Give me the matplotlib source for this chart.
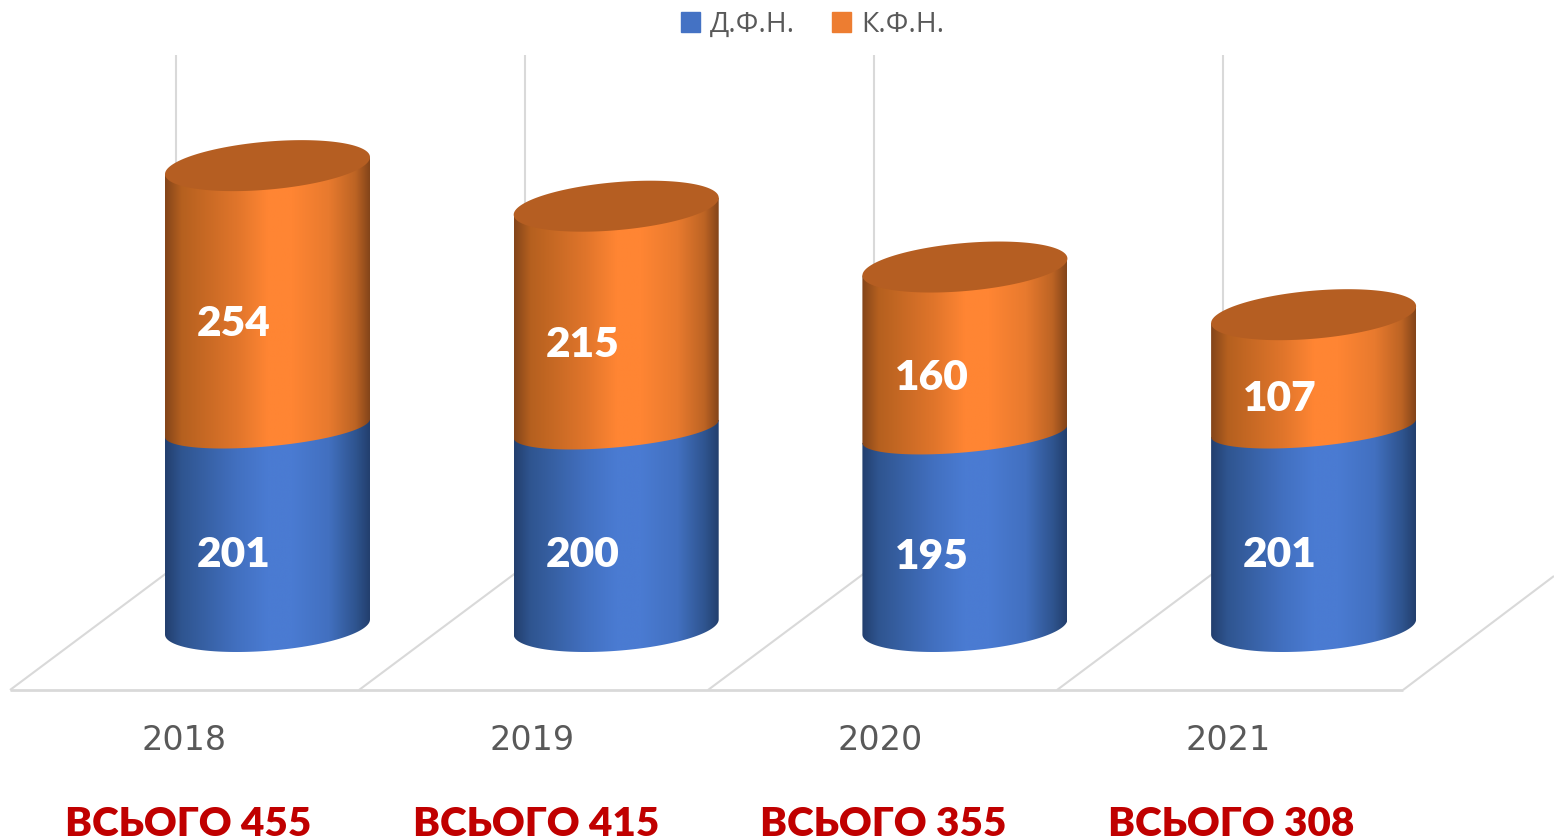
import numpy as np
import matplotlib
matplotlib.use('Agg')
import matplotlib.pyplot as plt
from matplotlib.colors import LinearSegmentedColormap
from matplotlib.patches import Patch, PathPatch
from matplotlib.path import Path

years = ['2018', '2019', '2020', '2021']
doctors = [201, 200, 195, 201]
candidates = [254, 215, 160, 107]
legend_names = ['Д.Ф.Н.', 'К.Ф.Н.']
total_word = 'ВСЬОГО'

W, H = 1554, 840
STEP = 348.7         # px between categories
BASE_X, BASE_Y = 267.5, 627  # px position of first cylinder bottom centre
HALF = 102.5 / STEP  # cylinder half width in category units
FONTS = ['Lato', 'Open Sans', 'DejaVu Sans']

BLUE = ['#233f6e', '#2f5590', '#4270c0', '#4a7bd2', '#4a7bd2', '#4270c0', '#2f5590', '#233f6e']
ORANGE = ['#84451a', '#b5601f', '#e0752b', '#ff8533', '#ff8533', '#e87a2e', '#bd6424', '#84451a']
STOPS = [0, 0.08, 0.35, 0.5, 0.62, 0.8, 0.93, 1]
CAP = '#b55e22'


def arc(cx, cy, ext, tilt, t):
    # tilted ellipse: right side sits higher than the left one
    b = np.sqrt(ext**2 - tilt**2)
    return cx + HALF * np.cos(t), cy + b * np.sin(t) + tilt * np.cos(t)


def gradient(ax, colors, verts, extent):
    cmap = LinearSegmentedColormap.from_list('c', list(zip(STOPS, colors)))
    img = ax.imshow(np.linspace(0, 1, 256).reshape(1, -1), cmap=cmap, extent=extent,
                    aspect='auto', zorder=3, interpolation='bilinear')
    patch = PathPatch(Path(verts), transform=ax.transData, fc='none', ec='none')
    ax.add_patch(patch)
    img.set_clip_path(patch)


def cylinder(ax, x, blue, total):
    low = np.linspace(np.pi, 2 * np.pi, 80)  # lower half of the ellipse
    level_mid = blue * 0.99
    level_top = total * 1.014

    # blue part
    xs, ys = arc(x, 0, 25, 7.5, low)
    left, right = x - HALF, x + HALF
    verts = list(zip(xs, ys)) + [(right, level_mid + 9), (left, level_mid - 9)]
    gradient(ax, BLUE, verts, (left, right, -40, level_mid + 20))

    # orange part
    xs, ys = arc(x, level_mid, 20.5, 9, low)
    verts = list(zip(xs, ys)) + [(right, level_top + 8.5), (left, level_top - 8.5)]
    gradient(ax, ORANGE, verts, (left, right, level_mid - 30, level_top + 20))

    # top cap
    t = np.linspace(0, 2 * np.pi, 160)
    xs, ys = arc(x, level_top, 25.5, 8.5, t)
    ax.fill(xs, ys, color=CAP, lw=0, zorder=4)

    label_x = x - 33.5 / STEP
    ax.text(label_x, level_mid / 2 - 27, str(blue), **LABEL)
    ax.text(label_x, (level_mid + level_top) / 2 - 27.5, str(total - blue), **LABEL)


LABEL = dict(color='white', fontsize=30.5, fontweight='heavy', family=FONTS,
             ha='center', va='center', zorder=5)

fig = plt.figure(figsize=(W / 100, H / 100), dpi=100)
ax = fig.add_axes([0, 0, 1, 1])
ax.axis('off')


def px_x(p):
    return (p - BASE_X) / STEP


def px_y(p):
    return BASE_Y - p


# floor and back wall grid
grid = dict(color='#d9d9d9', solid_capstyle='butt', zorder=1)
for i in range(len(years) + 1):
    if i < len(years):
        ax.plot([px_x(10 + 349 * i), px_x(176 + 349 * i)], [px_y(690), px_y(566)], lw=1.5, **grid)
        ax.plot([px_x(176 + 349 * i)] * 2, [px_y(566), px_y(55)], lw=1.5, **grid)
    else:
        ax.plot([px_x(1403), px_x(1554)], [px_y(690), px_y(576)], lw=1.5, **grid)
ax.plot([px_x(10), px_x(1403)], [px_y(690), px_y(690)], lw=2, **grid)

for i, (d, c) in enumerate(zip(doctors, candidates)):
    cylinder(ax, i, d, d + c)
    ax.text(px_x(183.5 + 348.2 * i), px_y(740), years[i], color='#595959', fontsize=24,
            family=['DejaVu Sans'], ha='center', va='center')
    ax.text(px_x(188 + 347.7 * i), px_y(824), f'{total_word} {d + c}', color='#c00000',
            fontsize=29.1, fontweight='heavy', family=FONTS, ha='center', va='center')

ax.set_xlim(px_x(0), px_x(W))
ax.set_ylim(px_y(H), px_y(0))

handles = [Patch(color='#4472c4', label=legend_names[0]),
           Patch(color='#ed7d31', label=legend_names[1])]
fig.legend(handles=handles, loc='center', bbox_to_anchor=(812.5 / W, 1 - 25 / H), ncol=2,
           frameon=False, handlelength=0.68, handleheight=0.68, handletextpad=0.36,
           columnspacing=1.3, labelcolor='#595959',
           prop={'family': ['Open Sans', 'DejaVu Sans'], 'size': 20.3})

fig.savefig('out.png', dpi=100)
